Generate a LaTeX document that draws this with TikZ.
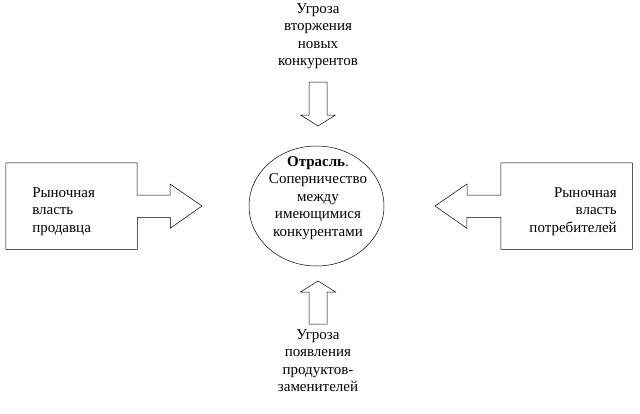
\documentclass[tikz,border=0pt]{standalone}
\usepackage{fontspec}
\setmainfont{Liberation Serif}
\usetikzlibrary{shapes.geometric}

\begin{document}
\begin{tikzpicture}[x=1pt,y=-1pt,line width=0.5pt]
	\tikzset{lbl/.style={font=\fontsize{15}{17.5}\selectfont, inner sep=0pt},
		frame/.style={minimum width=131pt, minimum height=86pt, inner sep=0pt}}
	\useasboundingbox (0,0) rectangle (640,413);
	\path
	(318,36) node[lbl,align=center](entry){Угроза\\вторжения\\новых\\конкурентов}
	(316.5,206) node[draw,ellipse,minimum width=135pt,minimum height=120pt](core){}
	(318,198) node[lbl,align=center](coretext){\textbf{Отрасль}.\\Соперничество\\между\\имеющимися\\конкурентами}
	(318,360.5) node[lbl,align=center](subst){Угроза\\появления\\продуктов-\\заменителей}
	(71.5,206) node[frame](seller){}
	(566.5,206) node[frame](buyer){}
	(32,211.5) node[lbl,align=left,anchor=west](sellertext){Рыночная\\власть\\продавца}
	(617,211.5) node[lbl,align=right,anchor=east](buyertext){Рыночная\\власть\\потребителей}
	;
	\coordinate (entrytip) at (318,126);
	\coordinate (substtip) at (318,281);
	\coordinate (sellertip) at (202,206);
	\coordinate (buyertip) at (435,206);
	\draw
	(entrytip) -- ++(17.5,-11) -- ++(-8.5,0) -- ++(0,-33) -- ++(-18,0) -- ++(0,33) -- ++(-8.5,0) -- cycle
	(substtip) -- ++(17.5,11) -- ++(-8.5,0) -- ++(0,32) -- ++(-18,0) -- ++(0,-32) -- ++(-8.5,0) -- cycle
	(seller.north east) -- (seller.north west) -- (seller.south west) -- (seller.south east)
		-- ++(0,-32) -- ++(33,0) -- ++(0,11) -- (sellertip) -- ++(-32,-22) -- ++(0,11) -- ++(-33,0) -- cycle
	(buyer.north west) -- (buyer.north east) -- (buyer.south east) -- (buyer.south west)
		-- ++(0,-32) -- ++(-34,0) -- ++(0,11) -- (buyertip) -- ++(32,-22) -- ++(0,11) -- ++(34,0) -- cycle
	;
\end{tikzpicture}
\end{document}
